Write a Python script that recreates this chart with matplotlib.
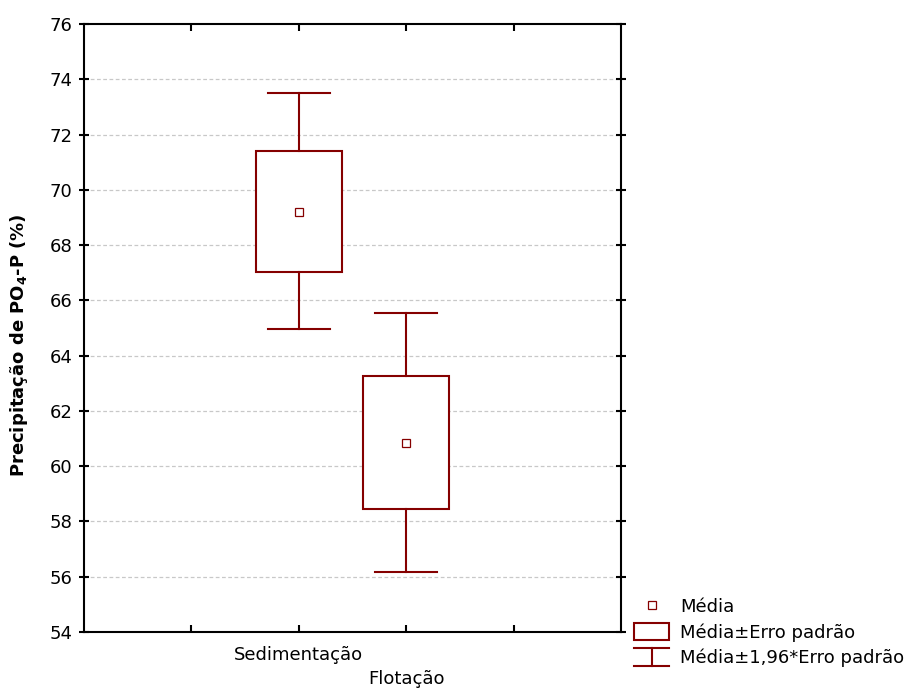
import numpy as np
import matplotlib
matplotlib.use("Agg")
import matplotlib.pyplot as plt
from matplotlib.patches import Rectangle
from matplotlib.lines import Line2D
from matplotlib.legend_handler import HandlerBase

# values
groups = ["Sedimentação", "Flotação"]
means = [69.2, 60.83]
se_low = [67.03, 58.45]
se_high = [71.42, 63.25]
ci_low = [64.97, 56.17]
ci_high = [73.52, 65.56]
yticks = [54, 56, 58, 60, 62, 64, 66, 68, 70, 72, 74, 76]

red = "#850000"
plt.rcParams["font.family"] = "DejaVu Sans"
plt.rcParams["mathtext.fontset"] = "custom"
plt.rcParams["mathtext.bf"] = "DejaVu Sans:bold"
plt.rcParams["mathtext.rm"] = "DejaVu Sans"


class BoxHandler(HandlerBase):
    def create_artists(self, legend, orig, xd, yd, w, h, fontsize, trans):
        r = Rectangle((-xd, -yd), w, h, facecolor="white", edgecolor=red,
                      lw=1.5, transform=trans)
        return [r]


class WhiskerHandler(HandlerBase):
    def create_artists(self, legend, orig, xd, yd, w, h, fontsize, trans):
        x0, y0 = -xd, -yd
        top = Line2D([x0, x0 + w], [y0 + h, y0 + h], color=red, lw=1.5, transform=trans)
        bot = Line2D([x0, x0 + w], [y0, y0], color=red, lw=1.5, transform=trans)
        stem = Line2D([x0 + w / 2, x0 + w / 2], [y0, y0 + h], color=red, lw=1.5, transform=trans)
        return [top, stem, bot]


fig = plt.figure(figsize=(9.09, 6.89), dpi=100)
ax = fig.add_axes([84 / 909, 57 / 689, 537 / 909, 608 / 689])

pos = np.arange(1, len(groups) + 1)
box_w = 0.4
cap_w = 0.29
for i, x in enumerate(pos):
    ax.add_patch(Rectangle((x - box_w, se_low[i]), 2 * box_w, se_high[i] - se_low[i],
                           facecolor="white", edgecolor=red, lw=1.5, zorder=3))
    ax.plot([x, x], [se_high[i], ci_high[i]], color=red, lw=1.5, zorder=3)
    ax.plot([x, x], [ci_low[i], se_low[i]], color=red, lw=1.5, zorder=3)
    ax.plot([x - cap_w, x + cap_w], [ci_high[i], ci_high[i]], color=red, lw=1.5, zorder=3)
    ax.plot([x - cap_w, x + cap_w], [ci_low[i], ci_low[i]], color=red, lw=1.5, zorder=3)
ax.plot(pos, means, ls="none", marker="s", ms=5.5, mfc="white", mec=red, mew=0.9, zorder=4)

ax.set_xlim(-1, 4)
ax.set_ylim(54, 76)
ax.set_yticks(yticks)
ax.set_xticks([0, 1, 2, 3])
ax.set_xticklabels(["", groups[0], groups[1], ""], fontsize=13)
ax.tick_params(axis="x", direction="in", length=5, width=1.5, top=True, bottom=True, pad=10)
ax.tick_params(axis="y", direction="inout", length=7, width=1.5, left=True, right=True,
               labelsize=13, pad=5)
ax.xaxis.get_major_ticks()[2].set_pad(27)
for sp in ax.spines.values():
    sp.set_linewidth(1.5)
for y in yticks[1:-1]:
    ax.axhline(y, color="#c8c8c8", lw=0.9, ls=(0, (3, 2)), zorder=1)

ax.set_ylabel(r"Precipitação de PO$_\mathbf{4}$-P (%)", fontsize=13, fontweight="bold",
              family="DejaVu Sans")
ax.yaxis.set_label_coords(-0.1, 0.472)

h_mean = Line2D([], [], ls="none", marker="s", ms=5.5, mfc="white", mec=red, mew=0.9)
h_box = Rectangle((0, 0), 1, 1)
h_whisk = Line2D([], [])
fig.legend([h_mean, h_box, h_whisk],
           ["Média", "Média±Erro padrão", "Média±1,96*Erro padrão"],
           handler_map={h_box: BoxHandler(), h_whisk: WhiskerHandler()},
           loc="upper left", bbox_to_anchor=(634 / 909, 1 - 597 / 689),
           frameon=False, fontsize=13, borderpad=0, borderaxespad=0,
           handlelength=1.95, handleheight=1.15, handletextpad=0.6,
           labelspacing=0.36, numpoints=1)

fig.savefig("out.png", dpi=100)
